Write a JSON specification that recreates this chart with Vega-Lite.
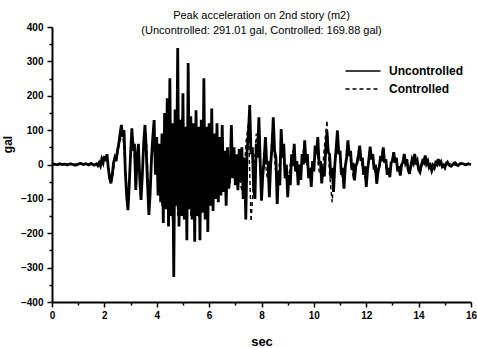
{
 "$schema": "https://vega.github.io/schema/vega-lite/v6.json",
 "width": 419, "height": 275,
 "autosize": {"type": "none"},
 "padding": {"left": 52, "top": 27, "right": 6, "bottom": 46},
 "background": "white",
 "config": {"view": {"stroke": null}, "font": "Liberation Sans"},
 "title": {"text": ["Peak acceleration on 2nd story (m2)", "(Uncontrolled: 291.01 gal, Controlled: 169.88 gal)"], "fontSize": 11, "fontWeight": "normal", "lineHeight": 15, "anchor": "middle", "offset": -14, "color": "black", "font": "Liberation Sans"},
 "datasets": {
  "u": [
   {"t":0,"a":0},{"t":0.1,"a":1},{"t":0.2,"a":-1},{"t":0.3,"a":2},{"t":0.4,"a":0},{"t":0.5,"a":1},{"t":0.6,"a":-1},{"t":0.7,"a":2},{"t":0.8,"a":0},{"t":0.9,"a":-2},{"t":1.0,"a":1},{"t":1.1,"a":3},{"t":1.2,"a":0},{"t":1.3,"a":2},{"t":1.4,"a":-1},{"t":1.5,"a":3},{"t":1.6,"a":-2},
   {"t":1.7,"a":2},{"t":1.75,"a":-3},{"t":1.8,"a":5},{"t":1.85,"a":-4},{"t":1.9,"a":15},{"t":1.95,"a":5},{"t":2.0,"a":25},{"t":2.05,"a":10},{"t":2.1,"a":30},{"t":2.15,"a":-10},{"t":2.2,"a":-40},{"t":2.25,"a":-55},{"t":2.3,"a":-30},{"t":2.35,"a":5},{"t":2.4,"a":20},{"t":2.45,"a":10},{"t":2.5,"a":40},{"t":2.55,"a":60},{"t":2.6,"a":90},{"t":2.65,"a":115},{"t":2.7,"a":80},{"t":2.75,"a":100},{"t":2.8,"a":-20},{"t":2.85,"a":-90},{"t":2.9,"a":-133},{"t":2.95,"a":-60},
   {"t":3.0,"a":30},{"t":3.05,"a":105},{"t":3.1,"a":40},{"t":3.15,"a":60},{"t":3.2,"a":-74},{"t":3.25,"a":20},{"t":3.3,"a":60},{"t":3.35,"a":-40},{"t":3.4,"a":-103},{"t":3.45,"a":-30},{"t":3.5,"a":60},{"t":3.55,"a":115},{"t":3.6,"a":40},{"t":3.65,"a":-60},{"t":3.7,"a":-147},{"t":3.75,"a":-80},{"t":3.8,"a":20},{"t":3.85,"a":80},
   {"t":3.9,"a":129},{"t":3.95,"a":-30},{"t":4.0,"a":80},{"t":4.05,"a":-90},{"t":4.1,"a":60},{"t":4.15,"a":-110},{"t":4.2,"a":90},{"t":4.25,"a":-170},{"t":4.3,"a":150},{"t":4.35,"a":-130},{"t":4.4,"a":193},{"t":4.45,"a":-180},{"t":4.5,"a":251},{"t":4.55,"a":-150},{"t":4.6,"a":120},{"t":4.65,"a":-327},{"t":4.7,"a":160},{"t":4.75,"a":-120},{"t":4.8,"a":339},{"t":4.85,"a":-180},{"t":4.9,"a":130},{"t":4.95,"a":-150},
   {"t":5.0,"a":207},{"t":5.05,"a":-160},{"t":5.1,"a":110},{"t":5.15,"a":-220},{"t":5.2,"a":295},{"t":5.25,"a":-130},{"t":5.3,"a":140},{"t":5.35,"a":-160},{"t":5.4,"a":120},{"t":5.45,"a":-225},{"t":5.5,"a":158},{"t":5.55,"a":-150},{"t":5.6,"a":110},{"t":5.65,"a":-220},{"t":5.7,"a":130},{"t":5.75,"a":-140},{"t":5.8,"a":251},{"t":5.85,"a":-160},{"t":5.9,"a":110},{"t":5.95,"a":-196},
   {"t":6.0,"a":120},{"t":6.05,"a":-120},{"t":6.1,"a":163},{"t":6.15,"a":-135},{"t":6.2,"a":90},{"t":6.25,"a":-100},{"t":6.3,"a":120},{"t":6.35,"a":-110},{"t":6.4,"a":80},{"t":6.45,"a":-90},
   {"t":6.5,"a":115},{"t":6.55,"a":-80},{"t":6.6,"a":40},{"t":6.65,"a":-120},{"t":6.7,"a":50},{"t":6.75,"a":-70},{"t":6.8,"a":-30},{"t":6.85,"a":115},{"t":6.9,"a":-40},{"t":6.95,"a":50},
   {"t":7.0,"a":-60},{"t":7.05,"a":30},{"t":7.1,"a":-75},{"t":7.15,"a":45},{"t":7.2,"a":-50},{"t":7.25,"a":50},{"t":7.3,"a":-100},{"t":7.35,"a":20},{"t":7.4,"a":-160},{"t":7.45,"a":40},{"t":7.5,"a":90},{"t":7.55,"a":173},{"t":7.6,"a":30},{"t":7.65,"a":50},{"t":7.7,"a":-70},{"t":7.75,"a":-100},{"t":7.8,"a":60},{"t":7.85,"a":20},{"t":7.9,"a":137},{"t":7.95,"a":10},
   {"t":8.0,"a":-105},{"t":8.05,"a":-30},{"t":8.1,"a":10},{"t":8.15,"a":80},{"t":8.2,"a":0},{"t":8.25,"a":10},{"t":8.3,"a":-95},{"t":8.35,"a":0},{"t":8.4,"a":50},{"t":8.45,"a":137},{"t":8.5,"a":40},{"t":8.55,"a":20},{"t":8.6,"a":-115},{"t":8.65,"a":-20},{"t":8.7,"a":-60},{"t":8.75,"a":103},{"t":8.8,"a":20},{"t":8.85,"a":60},{"t":8.9,"a":-40},{"t":8.95,"a":0},
   {"t":9.0,"a":-95},{"t":9.05,"a":-30},{"t":9.1,"a":-60},{"t":9.15,"a":30},{"t":9.2,"a":-5},{"t":9.25,"a":60},{"t":9.3,"a":-20},{"t":9.35,"a":10},{"t":9.4,"a":-60},{"t":9.45,"a":0},{"t":9.5,"a":-45},{"t":9.55,"a":30},{"t":9.6,"a":0},{"t":9.65,"a":70},{"t":9.7,"a":5},{"t":9.75,"a":30},{"t":9.8,"a":-40},{"t":9.85,"a":-10},{"t":9.9,"a":-65},{"t":9.95,"a":10},
   {"t":10.0,"a":-20},{"t":10.05,"a":55},{"t":10.1,"a":30},{"t":10.15,"a":80},{"t":10.2,"a":0},{"t":10.25,"a":10},{"t":10.3,"a":-55},{"t":10.35,"a":-5},{"t":10.4,"a":-35},{"t":10.45,"a":40},{"t":10.5,"a":95},{"t":10.55,"a":35},{"t":10.6,"a":30},{"t":10.65,"a":-40},{"t":10.7,"a":-10},{"t":10.75,"a":-80},{"t":10.8,"a":0},{"t":10.85,"a":45},{"t":10.9,"a":99},{"t":10.95,"a":30},
   {"t":11.0,"a":40},{"t":11.05,"a":-30},{"t":11.1,"a":-10},{"t":11.15,"a":-70},{"t":11.2,"a":-5},{"t":11.25,"a":20},{"t":11.3,"a":70},{"t":11.35,"a":25},{"t":11.4,"a":40},{"t":11.45,"a":-15},{"t":11.5,"a":5},{"t":11.55,"a":-46},{"t":11.6,"a":-5},{"t":11.65,"a":5},{"t":11.7,"a":25},{"t":11.75,"a":55},{"t":11.8,"a":10},{"t":11.85,"a":20},{"t":11.9,"a":-30},{"t":11.95,"a":-5},
   {"t":12.0,"a":-65},{"t":12.05,"a":-15},{"t":12.1,"a":15},{"t":12.15,"a":52},{"t":12.2,"a":15},{"t":12.25,"a":30},{"t":12.3,"a":-15},{"t":12.35,"a":0},{"t":12.4,"a":-56},{"t":12.45,"a":-20},{"t":12.5,"a":-5},{"t":12.55,"a":25},{"t":12.6,"a":10},{"t":12.65,"a":50},{"t":12.7,"a":5},{"t":12.75,"a":15},{"t":12.8,"a":-30},{"t":12.85,"a":-10},{"t":12.9,"a":-37},{"t":12.95,"a":5},
   {"t":13.0,"a":10},{"t":13.05,"a":36},{"t":13.1,"a":5},{"t":13.15,"a":20},{"t":13.2,"a":-20},{"t":13.25,"a":-5},{"t":13.3,"a":-32},{"t":13.35,"a":0},{"t":13.4,"a":5},{"t":13.45,"a":31},{"t":13.5,"a":5},{"t":13.55,"a":15},{"t":13.6,"a":-15},{"t":13.65,"a":-27},{"t":13.7,"a":-5},{"t":13.75,"a":15},{"t":13.8,"a":5},{"t":13.85,"a":31},{"t":13.9,"a":0},{"t":13.95,"a":10},
   {"t":14.0,"a":-15},{"t":14.05,"a":-22},{"t":14.1,"a":-3},{"t":14.15,"a":10},{"t":14.2,"a":5},{"t":14.25,"a":26},{"t":14.3,"a":2},{"t":14.35,"a":10},{"t":14.4,"a":-8},{"t":14.45,"a":-2},{"t":14.5,"a":-17},{"t":14.55,"a":-3},{"t":14.6,"a":-10},{"t":14.65,"a":5},{"t":14.7,"a":0},{"t":14.75,"a":16},{"t":14.8,"a":2},{"t":14.85,"a":8},{"t":14.9,"a":-6},{"t":14.95,"a":-2},
   {"t":15.0,"a":-9},{"t":15.05,"a":3},{"t":15.1,"a":7},{"t":15.15,"a":0},{"t":15.2,"a":-4},{"t":15.25,"a":-5},{"t":15.3,"a":0},{"t":15.35,"a":4},{"t":15.4,"a":5},{"t":15.45,"a":-1},{"t":15.5,"a":-3},{"t":15.6,"a":3},{"t":15.7,"a":2},{"t":15.8,"a":-1},{"t":15.9,"a":2},{"t":16.0,"a":0}
  ],
  "c": [
   {"t":0,"a":0},{"t":0.8,"a":1},{"t":1.6,"a":0},{"t":1.7,"a":1},{"t":1.8,"a":3},{"t":1.9,"a":10},{"t":2.0,"a":20},{"t":2.1,"a":25},{"t":2.2,"a":-30},{"t":2.3,"a":-40},{"t":2.4,"a":10},{"t":2.5,"a":30},{"t":2.6,"a":70},{"t":2.7,"a":90},{"t":2.8,"a":-20},{"t":2.9,"a":-100},
   {"t":3.0,"a":20},{"t":3.1,"a":80},{"t":3.2,"a":-60},{"t":3.3,"a":40},{"t":3.4,"a":-80},{"t":3.5,"a":40},{"t":3.6,"a":90},{"t":3.7,"a":-110},{"t":3.8,"a":10},{"t":3.9,"a":100},
   {"t":4.0,"a":-20},{"t":4.1,"a":30},{"t":4.2,"a":-120},{"t":4.3,"a":110},{"t":4.4,"a":-130},{"t":4.5,"a":150},{"t":4.6,"a":-160},{"t":4.7,"a":140},{"t":4.8,"a":-150},{"t":4.9,"a":100},
   {"t":5.0,"a":150},{"t":5.1,"a":-160},{"t":5.2,"a":140},{"t":5.3,"a":-150},{"t":5.4,"a":110},{"t":5.5,"a":-140},{"t":5.6,"a":-150},{"t":5.7,"a":120},{"t":5.8,"a":-130},{"t":5.9,"a":-120},
   {"t":6.0,"a":80},{"t":6.1,"a":-90},{"t":6.2,"a":70},{"t":6.3,"a":80},{"t":6.4,"a":-70},{"t":6.5,"a":70},{"t":6.6,"a":-80},{"t":6.7,"a":20},{"t":6.8,"a":-55},{"t":6.9,"a":40},
   {"t":7.0,"a":-40},{"t":7.1,"a":20},{"t":7.2,"a":-60},{"t":7.3,"a":-90},{"t":7.4,"a":60},{"t":7.5,"a":120},{"t":7.6,"a":-166},{"t":7.7,"a":-50},{"t":7.8,"a":90},{"t":7.9,"a":40},
   {"t":8.0,"a":-70},{"t":8.1,"a":40},{"t":8.2,"a":-30},{"t":8.3,"a":-60},{"t":8.4,"a":90},{"t":8.5,"a":20},{"t":8.6,"a":-80},{"t":8.7,"a":20},{"t":8.8,"a":50},{"t":8.9,"a":-20},
   {"t":9.0,"a":-60},{"t":9.1,"a":0},{"t":9.2,"a":40},{"t":9.3,"a":-10},{"t":9.4,"a":-40},{"t":9.5,"a":-10},{"t":9.6,"a":40},{"t":9.7,"a":20},{"t":9.8,"a":-30},{"t":9.9,"a":-40},
   {"t":10.0,"a":10},{"t":10.1,"a":50},{"t":10.2,"a":-20},{"t":10.3,"a":-40},{"t":10.4,"a":50},{"t":10.5,"a":128},{"t":10.6,"a":-30},{"t":10.7,"a":-110},{"t":10.8,"a":0},{"t":10.9,"a":70},
   {"t":11.0,"a":20},{"t":11.1,"a":-50},{"t":11.2,"a":0},{"t":11.3,"a":50},{"t":11.4,"a":10},{"t":11.5,"a":-35},{"t":11.6,"a":-15},{"t":11.7,"a":40},{"t":11.8,"a":15},{"t":11.9,"a":-30},
   {"t":12.0,"a":-45},{"t":12.1,"a":15},{"t":12.2,"a":35},{"t":12.3,"a":-10},{"t":12.4,"a":-40},{"t":12.5,"a":-10},{"t":12.6,"a":35},{"t":12.7,"a":15},{"t":12.8,"a":-25},{"t":12.9,"a":-20},
   {"t":13.0,"a":20},{"t":13.1,"a":20},{"t":13.2,"a":-15},{"t":13.3,"a":-25},{"t":13.4,"a":15},{"t":13.5,"a":15},{"t":13.6,"a":-15},{"t":13.7,"a":-15},{"t":13.8,"a":20},{"t":13.9,"a":10},
   {"t":14.0,"a":-10},{"t":14.1,"a":-15},{"t":14.2,"a":15},{"t":14.3,"a":10},{"t":14.4,"a":-8},{"t":14.5,"a":-12},{"t":14.6,"a":0},{"t":14.7,"a":10},{"t":14.8,"a":6},{"t":14.9,"a":-5},
   {"t":15.0,"a":-4},{"t":15.2,"a":3},{"t":15.4,"a":-2},{"t":15.6,"a":2},{"t":16.0,"a":0}
  ]
 },
 "encoding": {
  "x": {"field": "t", "type": "quantitative", "scale": {"domain": [0, 16], "nice": false},
   "axis": {"title": "sec", "values": [0,1,2,3,4,5,6,7,8,9,10,11,12,13,14,15,16], "labelExpr": "datum.value % 2 ? '' : datum.label",
    "tickSize": {"condition": {"test": "datum.value % 2 === 0", "value": 5}, "value": 3},
    "grid": false, "domainWidth": 2, "domainColor": "black", "tickColor": "black", "tickWidth": 1.5,
    "labelFontSize": 10, "labelFontWeight": "bold", "labelColor": "black", "labelFlush": false, "labelOverlap": false, "labelPadding": 3,
    "titleFontSize": 13, "titleFontWeight": "bold", "titleColor": "black", "titlePadding": 15}},
  "y": {"field": "a", "type": "quantitative", "scale": {"domain": [-400, 400], "nice": false},
   "axis": {"title": "gal", "values": [-400,-350,-300,-250,-200,-150,-100,-50,0,50,100,150,200,250,300,350,400], "labelExpr": "datum.value % 100 ? '' : datum.label",
    "tickSize": {"condition": {"test": "datum.value % 100 === 0", "value": 5}, "value": 3},
    "grid": false, "domainWidth": 2, "domainColor": "black", "tickColor": "black", "tickWidth": 1.5,
    "labelFontSize": 10, "labelFontWeight": "bold", "labelColor": "black", "labelOverlap": false, "labelPadding": 4,
    "titleFontSize": 12, "titleFontWeight": "bold", "titleColor": "black", "titlePadding": 6, "titleY": 117}}
 },
 "layer": [
  {"data": {"name": "c"}, "mark": {"type": "line", "strokeWidth": 1.4, "color": "black"},
   "encoding": {"strokeDash": {"datum": "Controlled", "type": "nominal", "scale": {"domain": ["Uncontrolled", "Controlled"], "range": [[1, 0], [4, 3]]},
    "legend": {"orient": "none", "legendX": 305, "legendY": 38, "title": null, "symbolType": "M-3.5,0H3.5", "symbolSize": 100, "symbolStrokeWidth": 1.6, "symbolStrokeColor": "black", "labelFontSize": 12, "labelFontWeight": "bold", "labelColor": "black", "labelFont": "Liberation Sans", "labelOffset": 20, "rowPadding": 6, "padding": 0}}}},
  {"data": {"name": "u"}, "mark": {"type": "line", "strokeWidth": 2.8, "color": "black"},
   "encoding": {"strokeDash": {"datum": "Uncontrolled", "type": "nominal"}}}
 ]
}
